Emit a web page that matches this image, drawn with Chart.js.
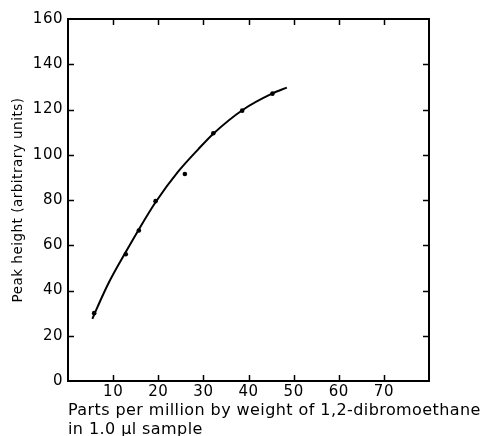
<!DOCTYPE html>
<html>
<head>
<meta charset="utf-8">
<script src="https://cdn.jsdelivr.net/npm/chart.js@4/dist/chart.umd.min.js"></script>
<style>
  html, body { margin: 0; padding: 0; background: #fff; }
  #wrap { width: 483px; height: 436px; position: relative; }
</style>
</head>
<body>
<div id="wrap"><canvas id="c" width="483" height="436"></canvas></div>
<script>
// Measured calibration points: concentration (ppm) vs peak height
const concentration = [5.8, 12.8, 15.7, 19.4, 25.9, 32.2, 38.6, 45.3];
const peakHeight    = [30, 56, 66.5, 79.5, 91.5, 109.5, 119.5, 127];

// Hand-drawn calibration curve through the points
const curveX = [5.4, 6.6, 9, 12.8, 15.7, 19.4, 24.4, 28.9, 32.2, 38.7, 45.2, 48.5];
const curveY = [27.5, 33, 43.3, 57, 67, 79, 92.5, 102.5, 109.3, 119.8, 127, 129.7];

// Axis tick values
const xTicks = [10, 20, 30, 40, 50, 60, 70];
const yTicks = [20, 40, 60, 80, 100, 120, 140];

// Axis titles
const xTitleLines = ['Parts per million by weight of 1,2-dibromoethane', 'in 1.0 µl sample'];
const yTitle = 'Peak height (arbitrary units)';

const FONT = 'DejaVu Sans';

// Slightly spaced lettering for all chart text
const lettering = {
  id: 'lettering',
  beforeUpdate(chart) { chart.ctx.letterSpacing = '0.5px'; },
  beforeDraw(chart) { chart.ctx.letterSpacing = '0.5px'; }
};

// Frame around the plot with inward-pointing tick marks on all four sides,
// plus the two-line x-axis caption, left-aligned under the axis
const frameTicks = {
  id: 'frameTicks',
  afterDraw(chart) {
    const { ctx, chartArea: a, scales: { x, y } } = chart;
    const len = 6;
    ctx.save();
    ctx.strokeStyle = '#000';
    ctx.lineWidth = 1.5;
    ctx.beginPath();
    xTicks.forEach(v => {
      const px = Math.round(x.getPixelForValue(v)) + 0.5;
      ctx.moveTo(px, a.bottom); ctx.lineTo(px, a.bottom - len);
      ctx.moveTo(px, a.top);    ctx.lineTo(px, a.top + len);
    });
    yTicks.forEach(v => {
      const py = Math.round(y.getPixelForValue(v)) + 0.5;
      ctx.moveTo(a.left, py);  ctx.lineTo(a.left + len, py);
      ctx.moveTo(a.right, py); ctx.lineTo(a.right - len, py);
    });
    ctx.stroke();
    ctx.lineWidth = 2;
    ctx.strokeRect(a.left, a.top, a.right - a.left, a.bottom - a.top);

    ctx.fillStyle = '#000';
    ctx.font = '16px "' + FONT + '"';
    ctx.letterSpacing = '0.42px';
    ctx.textAlign = 'left';
    ctx.textBaseline = 'alphabetic';
    xTitleLines.forEach((line, i) => {
      ctx.fillText(line, x.left, x.top + 34 + i * 18.5);
    });
    ctx.restore();
  }
};

new Chart(document.getElementById('c'), {
  type: 'scatter',
  data: {
    datasets: [
      {
        type: 'line',
        data: curveX.map((v, i) => ({ x: v, y: curveY[i] })),
        borderColor: '#000',
        borderWidth: 2,
        pointRadius: 0,
        cubicInterpolationMode: 'monotone',
        fill: false
      },
      {
        data: concentration.map((v, i) => ({ x: v, y: peakHeight[i] })),
        backgroundColor: '#000',
        borderColor: '#000',
        pointRadius: 2.3,
        pointBorderWidth: 0,
        showLine: false
      }
    ]
  },
  options: {
    responsive: false,
    devicePixelRatio: 1,
    animation: false,
    layout: { padding: { top: 19, right: 54, left: 0, bottom: 0 } },
    plugins: { legend: { display: false }, tooltip: { enabled: false } },
    scales: {
      x: {
        type: 'linear',
        min: 0, max: 80,
        grid: { display: false, drawTicks: false },
        border: { display: false },
        ticks: {
          stepSize: 10,
          color: '#000',
          padding: 2,
          font: { family: FONT, size: 15 },
          callback: v => (xTicks.includes(v) ? String(v) : '')
        },
        title: { display: false },
        afterFit: s => { s.height = 55; }
      },
      y: {
        type: 'linear',
        min: 0, max: 160,
        grid: { display: false, drawTicks: false },
        border: { display: false },
        ticks: {
          stepSize: 20,
          color: '#000',
          padding: 5,
          font: { family: FONT, size: 15 }
        },
        title: {
          display: true,
          text: yTitle,
          color: '#000',
          font: { family: FONT, size: 13.5, lineHeight: 1.2 },
          padding: { top: 10, bottom: 0 }
        },
        afterFit: s => { s.width = 68; }
      }
    }
  },
  plugins: [lettering, frameTicks]
});
</script>
</body>
</html>
